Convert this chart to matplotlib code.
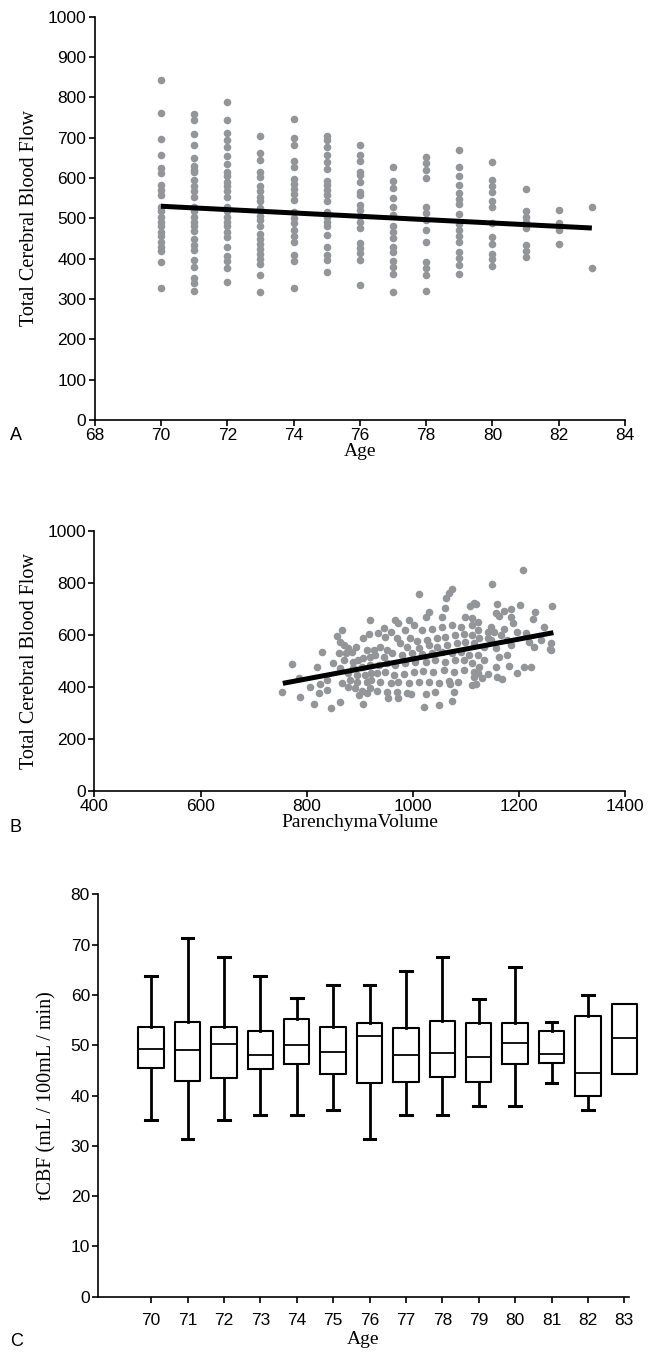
import numpy as np
import matplotlib
matplotlib.use("Agg")
import matplotlib.pyplot as plt

# ------------------------------
# DATA
# ------------------------------
# Panel A: tCBF vs age, one list per age column
ages_a = [70, 71, 72, 73, 74, 75, 76, 77, 78, 79, 80, 81, 82, 83]
tcbf_by_age = [
    [843, 762, 697, 656, 624, 612, 583, 571, 558, 529, 517, 504, 492, 480, 467, 455, 442, 430, 418, 391, 327],
    [758, 744, 708, 683, 649, 631, 620, 615, 596, 579, 567, 554, 529, 517, 504, 492, 480, 469, 448, 434, 422,
     397, 380, 352, 339, 321],
    [788, 744, 711, 695, 678, 655, 634, 615, 604, 591, 579, 567, 554, 529, 517, 504, 492, 480, 467, 453, 430,
     407, 393, 378, 342],
    [703, 662, 645, 616, 602, 579, 567, 554, 542, 525, 507, 496, 480, 461, 448, 436, 424, 411, 399, 386, 360, 317],
    [747, 699, 681, 641, 628, 598, 585, 572, 560, 546, 515, 500, 488, 471, 455, 441, 409, 395, 327],
    [705, 695, 678, 658, 639, 623, 593, 582, 571, 558, 542, 515, 504, 492, 481, 459, 428, 409, 397, 366],
    [681, 656, 641, 616, 608, 591, 565, 558, 533, 521, 507, 492, 476, 438, 426, 413, 397, 335],
    [628, 593, 574, 550, 529, 509, 482, 466, 451, 430, 416, 393, 380, 362, 317],
    [652, 637, 620, 600, 529, 513, 496, 471, 441, 391, 376, 360, 321],
    [669, 628, 605, 582, 564, 548, 536, 510, 486, 471, 457, 441, 416, 401, 385, 362],
    [639, 595, 581, 566, 542, 528, 488, 453, 437, 412, 399, 383],
    [572, 519, 503, 490, 476, 434, 419, 405],
    [521, 488, 470, 436],
    [528, 378],
]
fit_a_x = [70, 83]
fit_a_y = [530, 476]

# Panel B: tCBF vs parenchyma volume
volume_b = [
    919, 866, 918, 906, 857, 862, 870, 878, 893, 885, 829, 860, 874, 913, 926, 870, 887, 897, 907, 919,
    772, 819, 849, 863, 888, 904, 919, 878, 894, 910, 922, 786, 806, 825, 839, 866, 882, 895, 913, 922,
    753, 787, 824, 838, 877, 891, 904, 919, 899, 913, 813, 846, 863, 906,
    1074, 1069, 1063, 1011, 1108, 1115, 1061, 1031, 1024, 966, 973, 992, 1055, 1099, 1111, 1002, 945, 1017,
    1036, 1055, 1074, 1091, 1111, 958, 986, 934, 948, 970, 995, 1008, 1027, 1046, 1061, 1080, 1096, 1111,
    939, 951, 976, 989, 1011, 1030, 1046, 1064, 1083, 1099, 1115, 929, 945, 961, 980, 998, 1017, 1036,
    1055, 1074, 1090, 1105, 936, 951, 967, 986, 1005, 1024, 1042, 1061, 1080, 1096, 1111, 932, 948, 964,
    983, 1002, 1020, 1039, 1058, 1077, 1096, 1115, 939, 958, 973, 992, 1011, 1030, 1049, 1068, 1086, 1111,
    932, 951, 970, 989, 1024, 1042, 1071, 1077, 973, 954, 997, 1022, 1049, 1074, 1115,
    1208, 1150, 1120, 1159, 1203, 1263, 1156, 1163, 1172, 1186, 1231, 1227, 1185, 1188, 1123, 1147, 1141,
    1153, 1172, 1196, 1213, 1248, 1122, 1166, 1125, 1147, 1178, 1219, 1241, 1260, 1134, 1156, 1185, 1228,
    1258, 1122, 1163, 1178, 1134, 1125, 1156, 1181, 1197, 1210, 1223, 1122, 1141, 1159, 1131, 1169, 1119,
    1141, 1261,
]
tcbf_b = [
    658, 619, 603, 590, 597, 574, 562, 549, 555, 536, 536, 530, 530, 542, 542, 504, 497, 504, 510, 517,
    487, 478, 491, 472, 472, 478, 485, 453, 446, 446, 453, 433, 401, 410, 427, 417, 427, 421, 421, 427,
    380, 363, 378, 389, 401, 395, 385, 395, 369, 376, 336, 321, 341, 336,
    777, 760, 743, 756, 713, 722, 702, 687, 670, 657, 648, 657, 670, 670, 664, 638, 628, 619,
    623, 632, 638, 632, 638, 613, 619, 606, 593, 590, 587, 577, 581, 587, 593, 600, 602, 600,
    555, 542, 568, 555, 551, 561, 555, 561, 568, 574, 568, 523, 517, 529, 523, 529, 526, 529,
    536, 529, 536, 523, 484, 491, 484, 491, 497, 495, 504, 497, 504, 504, 491, 452, 456, 446,
    449, 459, 461, 456, 465, 459, 465, 456, 420, 414, 420, 414, 418, 420, 414, 423, 418, 408,
    384, 379, 382, 375, 372, 379, 410, 382, 356, 356, 372, 324, 331, 346, 440,
    850, 796, 719, 719, 715, 712, 686, 673, 694, 699, 690, 660, 671, 645, 651, 632, 613,
    613, 622, 613, 606, 630, 619, 600, 587, 581, 581, 574, 581, 571, 555, 549, 562, 553,
    545, 523, 517, 523, 504, 478, 478, 481, 455, 476, 476, 453, 450, 440, 433, 430, 412,
    587, 542,
]
fit_b_x = [755, 1265]
fit_b_y = [414, 609]

# Panel C: tCBF box plots by age
ages_c = ["70", "71", "72", "73", "74", "75", "76", "77", "78", "79", "80", "81", "82", "83"]
whis_lo = [35.1, 31.4, 35.2, 36.2, 36.2, 37.1, 31.4, 36.1, 36.1, 37.9, 38.0, 42.5, 37.2, 44.3]
q1 = [45.4, 42.9, 43.5, 45.3, 46.3, 44.3, 42.5, 42.6, 43.7, 42.7, 46.3, 46.4, 40.0, 44.3]
med = [49.2, 49.1, 50.3, 48.1, 50.0, 48.6, 51.8, 48.1, 48.5, 47.6, 50.5, 48.2, 44.4, 51.4]
q3 = [53.7, 54.6, 53.6, 52.8, 55.2, 53.6, 54.5, 53.5, 54.8, 54.5, 54.5, 52.8, 55.9, 58.1]
whis_hi = [63.8, 71.3, 67.6, 63.7, 59.3, 61.9, 61.9, 64.8, 67.6, 59.2, 65.6, 54.7, 60.0, 58.1]

# ------------------------------
# STYLE
# ------------------------------
plt.rcParams['font.family'] = ['Liberation Sans', 'DejaVu Sans']
dot_color = '#939598'
serif = ['Liberation Serif', 'DejaVu Serif']


def style_axes(ax):
    for side in ['top', 'right']:
        ax.spines[side].set_visible(False)
    for side in ['left', 'bottom']:
        ax.spines[side].set_linewidth(1.2)
    ax.tick_params(direction='out', length=4, width=1.2, labelsize=12.5, pad=2)


fig = plt.figure(figsize=(6.52, 13.57), dpi=100)

# ------------------------------
# PANEL A
# ------------------------------
ax_a = fig.add_axes([0.1452, 0.6905, 0.8134, 0.2972])
for age, vals in zip(ages_a, tcbf_by_age):
    ax_a.scatter([age] * len(vals), vals, s=30, color=dot_color, linewidths=0, zorder=2)
ax_a.plot(fit_a_x, fit_a_y, color='black', lw=3.6, solid_capstyle='butt', zorder=3)
ax_a.set_xlim(68, 84)
ax_a.set_ylim(0, 1000)
ax_a.set_xticks(range(68, 85, 2))
ax_a.set_yticks(range(0, 1001, 100))
style_axes(ax_a)
ax_a.set_xlabel('Age', family=serif, fontsize=14, labelpad=0)
ax_a.set_ylabel('Total Cerebral Blood Flow', family=serif, fontsize=14.5, labelpad=6)

# ------------------------------
# PANEL B
# ------------------------------
ax_b = fig.add_axes([0.1449, 0.4171, 0.8137, 0.1916])
ax_b.scatter(volume_b, tcbf_b, s=30, color=dot_color, linewidths=0, zorder=2)
ax_b.plot(fit_b_x, fit_b_y, color='black', lw=3.6, solid_capstyle='butt', zorder=3)
ax_b.set_xlim(400, 1400)
ax_b.set_ylim(0, 1000)
ax_b.set_xticks(range(400, 1401, 200))
ax_b.set_yticks(range(0, 1001, 200))
style_axes(ax_b)
ax_b.set_xlabel('ParenchymaVolume', family=serif, fontsize=14, labelpad=0)
ax_b.set_ylabel('Total Cerebral Blood Flow', family=serif, fontsize=14.5, labelpad=6)

# ------------------------------
# PANEL C
# ------------------------------
ax_c = fig.add_axes([0.1508, 0.0444, 0.8135, 0.2966])
stats = []
for i in range(len(ages_c)):
    stats.append(dict(med=med[i], q1=q1[i], q3=q3[i], whislo=whis_lo[i], whishi=whis_hi[i], fliers=[]))
parts = ax_c.bxp(stats, positions=range(len(ages_c)), widths=0.7, showfliers=False,
                 boxprops=dict(color='black', lw=1.5),
                 medianprops=dict(color='black', lw=1.3),
                 whiskerprops=dict(color='black', lw=2),
                 capprops=dict(color='black', lw=2.2), capwidths=0.32)
for key in parts:
    for artist in parts[key]:
        artist.set_clip_on(False)
# last age group has no whiskers: hide its caps
for i, (lo, hi) in enumerate(zip(whis_lo, whis_hi)):
    if lo == q1[i] and hi == q3[i]:
        parts['caps'][2 * i].set_visible(False)
        parts['caps'][2 * i + 1].set_visible(False)
ax_c.set_xlim(-1.45, 13.12)
ax_c.set_ylim(0, 80)
ax_c.set_xticks(range(len(ages_c)))
ax_c.set_xticklabels(ages_c)
ax_c.set_yticks(range(0, 81, 10))
style_axes(ax_c)
ax_c.tick_params(axis='x', pad=8)
ax_c.set_xlabel('Age', family=serif, fontsize=14, labelpad=2)
ax_c.set_ylabel('tCBF (mL / 100mL / min)', family=serif, fontsize=14.5, labelpad=10)

# panel letters
fig.text(0.015, 1 - 436 / 1357, 'A', fontsize=13, va='center')
fig.text(0.015, 1 - 828 / 1357, 'B', fontsize=13, va='center')
fig.text(0.015, 1 - 1342 / 1357, 'C', fontsize=13, va='center')

fig.savefig('out.png', dpi=100)
